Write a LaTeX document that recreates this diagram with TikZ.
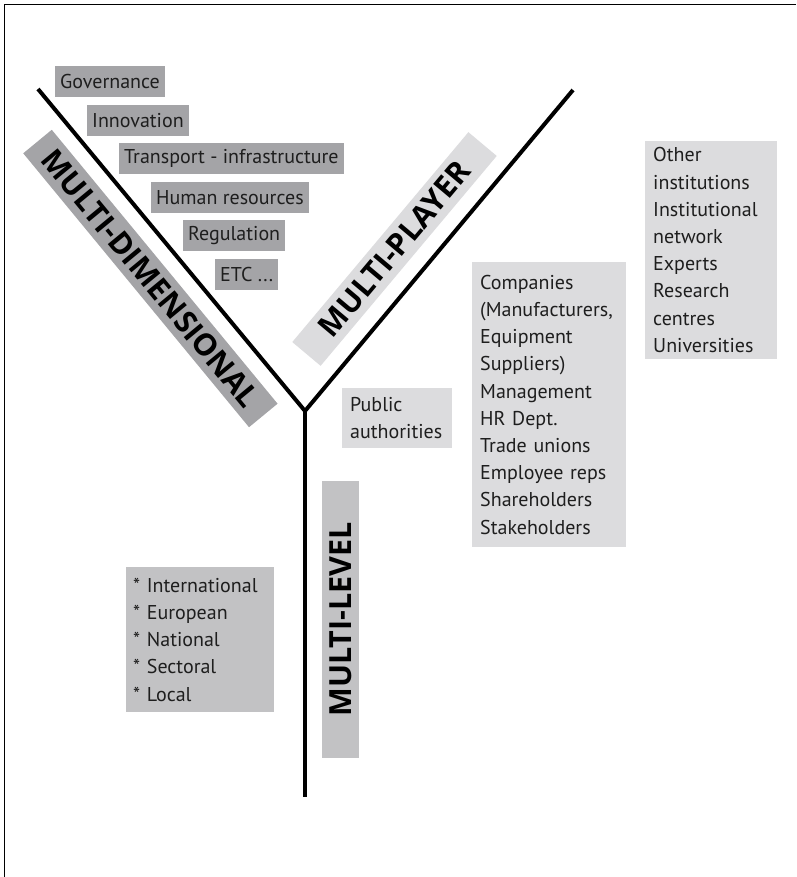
\documentclass[tikz,border=0pt]{standalone}
\usepackage{fontspec}
\setmainfont{PT Sans}
\newfontfamily\bandfont{Open Sans}
\usepackage{tikz}
\definecolor{darkbox}{HTML}{A4A4A7}
\definecolor{midbox}{HTML}{C2C2C4}
\definecolor{lightbox}{HTML}{DCDCDE}
\definecolor{inktext}{HTML}{1E1E1E}
\tikzset{
    txtbox/.style={anchor=north west,align=left,fill=lightbox,inner xsep=8pt,inner ysep=0pt,text=inktext,font=\fontsize{20}{27.2}\selectfont},
    dimbox/.style={anchor=west,fill=darkbox,inner xsep=5pt,inner ysep=0pt,minimum height=31pt,text=inktext,font=\fontsize{20}{27.2}\selectfont},
    band/.style={fill=#1,minimum height=37pt,inner sep=0pt,text=black,font=\bandfont\bfseries\fontsize{30.5}{30.5}\selectfont},
    arm/.style={line width=4pt,black}
}

\begin{document}
\begin{tikzpicture}[x=1pt,y=-1pt]
            \useasboundingbox (0,0) rectangle (796,877);
            \draw[line width=1.5pt] (796,4.3) -- (4.3,4.3) -- (4.3,877);
            \foreach \txt [count=\i from 0] in {Governance,Innovation,Transport - infrastructure,Human resources,Regulation,{ETC {...}}} {
                \node (dim\i) at (55+32*\i,81.5+38.6*\i) [dimbox] {\txt};
            }
            \node (dimband) at (150.4,278.5) [band=darkbox,minimum width=355pt,rotate=-50.5] {MULTI-DIMENSIONAL};
            \node (playband) at (394.5,249) [band=lightbox,minimum width=274pt,rotate=50] {MULTI-PLAYER};
            \node (levelband) at (340.5,619.5) [band=midbox,minimum width=277pt,rotate=90] {MULTI-LEVEL};
            \node (public) at (342,388) [txtbox,text width=94pt,minimum height=60pt] {Public\\authorities};
            \node (players) at (472,262) [txtbox,text width=138pt,minimum height=285pt] {Companies\\(Manufacturers,\\Equipment\\Suppliers)\\Management\\HR Dept.\\Trade unions\\Employee reps\\Shareholders\\Stakeholders};
            \node (others) at (645,141) [txtbox,text width=116pt,minimum height=218pt] {Other\\institutions\\Institutional\\network\\Experts\\Research\\centres\\Universities};
            \node (levels) at (126,567) [txtbox,fill=midbox,inner xsep=7pt,text width=134pt,minimum height=145pt] {* International\\{}* European\\{}* National\\{}* Sectoral\\{}* Local};
            \coordinate (fork) at (305,411);
            \coordinate (dimend) at (38,89);
            \coordinate (playend) at (573,90);
            \coordinate (levelend) at (305,797);
            \draw[arm] (dimend) -- (fork) -- (playend);
            \draw[arm] (fork) -- (levelend);
        \end{tikzpicture}
\end{document}
